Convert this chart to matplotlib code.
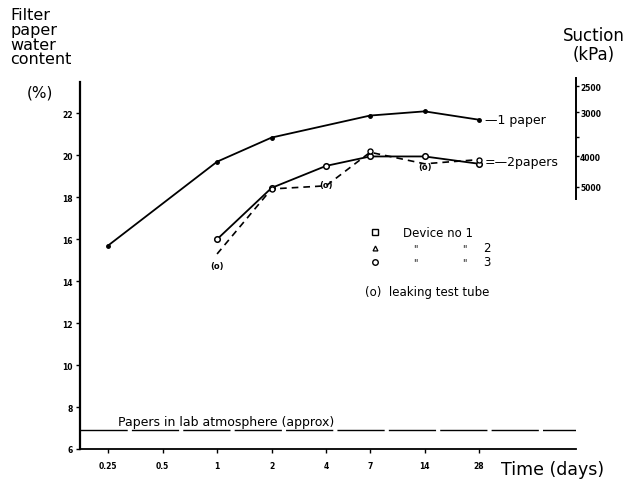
import matplotlib
matplotlib.use("Agg")
import matplotlib.pyplot as plt
from matplotlib.ticker import FixedLocator, NullLocator

# ---- data ----
x_ticks = [0.25, 0.5, 1, 2, 4, 7, 14, 28]
x_ticklabels = ["0.25", "0.5", "1", "2", "4", "7", "14", "28"]
y_ticks = [6, 8, 10, 12, 14, 16, 18, 20, 22]

one_paper_days = [0.25, 1, 2, 7, 14, 28]
one_paper_wc = [15.7, 19.7, 20.85, 21.9, 22.1, 21.7]

two_paper_solid_days = [1, 2, 4, 7, 14, 28]
two_paper_solid_wc = [16.0, 18.45, 19.5, 19.95, 19.95, 19.6]

two_paper_dashed_days = [1, 2, 4, 7, 14, 28]
two_paper_dashed_wc = [15.3, 18.4, 18.55, 20.15, 19.6, 19.8]
dashed_marker_days = [2, 7, 28]
dashed_marker_wc = [18.4, 20.2, 19.8]

leak_days = [1, 4, 14]
leak_wc = [14.75, 18.6, 19.45]

lab_atmosphere_wc = 6.9

suction_labels = ["2500", "3000", "", "4000", "5000"]
suction_positions_wc = [23.3, 22.05, 20.9, 19.95, 18.5]

# ---- figure ----
fig = plt.figure(figsize=(6.28, 4.85), dpi=100)
ax = fig.add_axes([80/628, 1-450/485, 496/628, 367/485])

ax.set_xscale("log", base=2)
ax.set_xlim(0.175, 96)
ax.set_ylim(6, 23.5)

ax.plot(one_paper_days, one_paper_wc, "-", color="black", lw=1.3,
        marker="o", ms=2.5, mfc="black")
ax.plot(two_paper_solid_days, two_paper_solid_wc, "-", color="black", lw=1.3,
        marker="o", ms=4, mfc="white", mew=1.1)
ax.plot(two_paper_dashed_days, two_paper_dashed_wc, color="black", lw=1.2,
        dashes=(4, 3))
ax.plot(dashed_marker_days, dashed_marker_wc, "o", color="black", ms=3.6,
        mfc="white", mew=1.0, zorder=5)
for d, w in zip(leak_days, leak_wc):
    ax.text(d, w, "(o)", fontsize=6, ha="center", va="center", fontweight="bold")

# lab atmosphere line
ax.axhline(lab_atmosphere_wc, color="black", lw=1.0, dashes=(34, 3))
ax.text(0.285, lab_atmosphere_wc + 0.08, "Papers in lab atmosphere (approx)",
        fontsize=9, ha="left", va="bottom")

# series labels
ax.annotate("—1 paper", xy=(one_paper_days[-1], one_paper_wc[-1]),
            xytext=(4, 0), textcoords="offset points", fontsize=9, va="center")
ax.annotate("=—2papers", xy=(two_paper_solid_days[-1], 19.72),
            xytext=(4, 0), textcoords="offset points", fontsize=9, va="center")

# legend (hand-placed)
tr = ax.transAxes
lx_m, lx_t = 0.595, 0.651
ax.plot([lx_m], [0.591], "s", transform=tr, color="black", ms=4, mfc="white", mew=1.0, clip_on=False)
ax.plot([lx_m], [0.548], "^", transform=tr, color="black", ms=3.5, mfc="white", mew=0.9, clip_on=False)
ax.plot([lx_m], [0.510], "o", transform=tr, color="black", ms=4, mfc="white", mew=1.0, clip_on=False)
ax.text(lx_t, 0.591, "Device no 1", transform=tr, fontsize=8.5, va="center", ha="left")
for yy, n in [(0.548, "2"), (0.510, "3")]:
    ax.text(0.672, yy, '"', transform=tr, fontsize=7, va="center", ha="left")
    ax.text(0.77, yy, '"', transform=tr, fontsize=7, va="center", ha="left")
    ax.text(0.812, yy, n, transform=tr, fontsize=8.5, va="center", ha="left")
ax.text(0.575, 0.43, "(o)  leaking test tube", transform=tr, fontsize=8.5,
        va="center", ha="left")

# axes styling
for s in ["top", "right"]:
    ax.spines[s].set_visible(False)
ax.spines["left"].set_linewidth(1.6)
ax.spines["bottom"].set_linewidth(1.3)
ax.xaxis.set_major_locator(FixedLocator(x_ticks))
ax.set_xticklabels(x_ticklabels)
ax.xaxis.set_minor_locator(NullLocator())
ax.set_yticks(y_ticks)
ax.tick_params(axis="both", direction="out", length=3, width=1.0,
               labelsize=5.5, pad=2)
for lab in ax.get_xticklabels() + ax.get_yticklabels():
    lab.set_fontweight("bold")
ax.tick_params(axis="x", pad=6)

# right suction axis
ax2 = ax.twinx()
ax2.set_ylim(ax.get_ylim())
for s in ["top", "left", "bottom"]:
    ax2.spines[s].set_visible(False)
ax2.spines["right"].set_bounds(17.9, 23.7)
ax2.spines["right"].set_linewidth(1.4)
ax2.set_yticks(suction_positions_wc)
ax2.set_yticklabels(suction_labels)
ax2.tick_params(axis="y", direction="out", length=2, width=1.0, labelsize=5.5, pad=1)
for lab in ax2.get_yticklabels():
    lab.set_fontweight("bold")

# axis titles
fig.text(10/628, 1-8/485, "Filter\npaper\nwater\ncontent", fontsize=11.5,
         ha="left", va="top", linespacing=0.98)
fig.text(40/628, 1-93/485, "(%)", fontsize=11, ha="center", va="center")
fig.text(594/628, 1-27/485, "Suction\n(kPa)", fontsize=12, ha="center",
         va="top", linespacing=1.05)
fig.text(604/628, 1-470/485, "Time (days)", fontsize=12.5, ha="right", va="center")

fig.savefig("out.png", dpi=100)
